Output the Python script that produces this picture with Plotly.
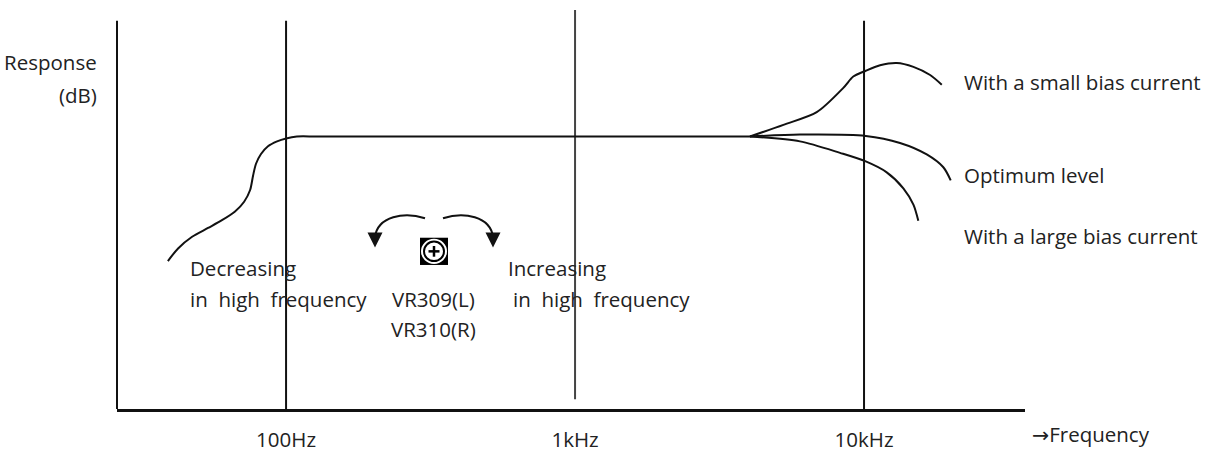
import plotly.graph_objects as go
import numpy as np

# decade markers on the frequency axis
decade_freqs = [100, 1000, 10000]
decade_labels = ["100Hz", "1kHz", "10kHz"]

# low end roll-off and flat part (Hz, dB relative)
rolloff_freq = [39, 42.3, 47.3, 53.7, 60, 66.6, 71.6, 75.1, 76.9, 78.7, 81.9, 86.6,
                93.1, 100, 109, 130, 4030]
rolloff_resp = [-6.4, -5.75, -5.15, -4.7, -4.3, -3.85, -3.35, -2.75, -2.0, -1.4, -0.9,
                -0.5, -0.25, -0.1, 0, 0, 0]

# high end for the three bias settings
small_freq = [4030, 5260, 6860, 8480, 9180, 10140, 11360, 12980, 14820, 16930, 18580]
small_resp = [0, 0.6, 1.25, 2.5, 3.08, 3.38, 3.66, 3.78, 3.58, 3.16, 2.66]

optimum_freq = [4030, 6000, 10140, 13320, 16480, 18810, 19950]
optimum_resp = [0, 0.1, 0.03, -0.33, -0.92, -1.58, -2.25]

large_freq = [4030, 6000, 8260, 10140, 11980, 13680, 14820, 15410]
large_resp = [0, -0.25, -0.84, -1.28, -1.84, -2.66, -3.5, -4.33]

# figure geometry (pixels)
W, H = 1209, 463
L, R, T, B = 117, 184, 10, 43
PW, PH = W - L - R, H - T - B


def px(x):
    return (x - L) / PW


def py(y):
    return (H - B - y) / PH


FONT = "Open Sans"
FS = 20.5
ink = "#111"

fig = go.Figure()

# vertical decade lines
line_top = [5.95, 6.5, 5.95]
line_bot = [-14, -13.5, -14]
line_col = ["#111", "#444", "#111"]
for f, t, b, c in zip(decade_freqs, line_top, line_bot, line_col):
    fig.add_trace(go.Scatter(x=[f, f], y=[b, t], mode="lines",
                             line=dict(color=c, width=2), hoverinfo="skip"))

curve = dict(color=ink, width=2, shape="spline", smoothing=0.8)
fig.add_trace(go.Scatter(x=rolloff_freq, y=rolloff_resp, mode="lines", line=curve))
fig.add_trace(go.Scatter(x=small_freq, y=small_resp, mode="lines", line=curve))
fig.add_trace(go.Scatter(x=optimum_freq, y=optimum_resp, mode="lines", line=curve))
fig.add_trace(go.Scatter(x=large_freq, y=large_resp, mode="lines", line=curve))

shapes = []
# y axis line
shapes.append(dict(type="line", xref="paper", yref="paper", x0=0, x1=0,
                   y0=0, y1=py(21), line=dict(color=ink, width=2)))

# trimmer icon
shapes.append(dict(type="rect", xref="paper", yref="paper",
                   x0=px(420), x1=px(448), y0=py(272), y1=py(244),
                   fillcolor="black", line=dict(width=0)))
shapes.append(dict(type="circle", xref="paper", yref="paper",
                   x0=px(421), x1=px(447), y0=py(271), y1=py(245),
                   fillcolor="white", line=dict(width=0)))
shapes.append(dict(type="circle", xref="paper", yref="paper",
                   x0=px(424), x1=px(444), y0=py(268), y1=py(248),
                   fillcolor="white", line=dict(color="black", width=2)))
shapes.append(dict(type="line", xref="paper", yref="paper",
                   x0=px(428.5), x1=px(439.5), y0=py(258), y1=py(258),
                   line=dict(color="black", width=2.5)))
shapes.append(dict(type="line", xref="paper", yref="paper",
                   x0=px(434), x1=px(434), y0=py(252.5), y1=py(263.5),
                   line=dict(color="black", width=2.5)))


def arc(p0, c1, c2, p1):
    pts = [p0, c1, c2, p1]
    s = [f"{px(x):.5f},{py(y):.5f}" for x, y in pts]
    return f"M {s[0]} C {s[1]} {s[2]} {s[3]}"


shapes.append(dict(type="path", xref="paper", yref="paper",
                   path=arc((425, 224), (404, 217), (378, 222), (375, 243)),
                   line=dict(color=ink, width=2)))
shapes.append(dict(type="path", xref="paper", yref="paper",
                   path=arc((443, 224), (464, 217), (490, 222), (493, 243)),
                   line=dict(color=ink, width=2)))

annotations = []
for tip in [(375, 254), (493, 254)]:
    annotations.append(dict(xref="paper", yref="paper", x=px(tip[0]), y=py(tip[1]),
                            ax=0, ay=-13, text="", showarrow=True, arrowhead=2,
                            arrowsize=1.5, arrowwidth=2, arrowcolor=ink))


def label(text, x, y, anchor="left"):
    annotations.append(dict(xref="paper", yref="paper", x=px(x), y=py(y),
                            text=text, showarrow=False, xanchor=anchor,
                            yanchor="middle", font=dict(family=FONT, size=FS, color="#222")))


label("Response", 99, 63, "right")
label("(dB)", 99, 97, "right")
label("Decreasing", 188, 275)
label("in  high  frequency", 188, 307)
label("VR309(L)", 433, 307, "center")
label("VR310(R)", 433, 338, "center")
label("Increasing", 506, 275)
label("in  high  frequency", 511, 307)
label("With a small bias current", 962, 84)
label("Optimum level", 962, 180)
label("With a large bias current", 962, 242)
label("<span style='font-family:DejaVu Sans'>→</span>Frequency", 1030, 446)

fig.update_layout(
    width=W, height=H,
    margin=dict(l=L, r=R, t=T, b=B),
    showlegend=False,
    plot_bgcolor="white", paper_bgcolor="white",
    shapes=shapes, annotations=annotations,
    xaxis=dict(type="log", range=[1.415, 4.557], showgrid=False, zeroline=False,
               showline=True, linecolor=ink, linewidth=3, ticks="",
               tickvals=decade_freqs, ticktext=decade_labels,
               tickfont=dict(family=FONT, size=FS, color="#222"),
               ticklabelstandoff=10),
    yaxis=dict(range=[-14, 6.5], showgrid=False, zeroline=False,
               showline=False, showticklabels=False),
)

# drop the default page margin so the figure sits at the window origin
fig.write_html("out.html", config={"displayModeBar": False},
               post_script="document.body.style.margin='0';")
